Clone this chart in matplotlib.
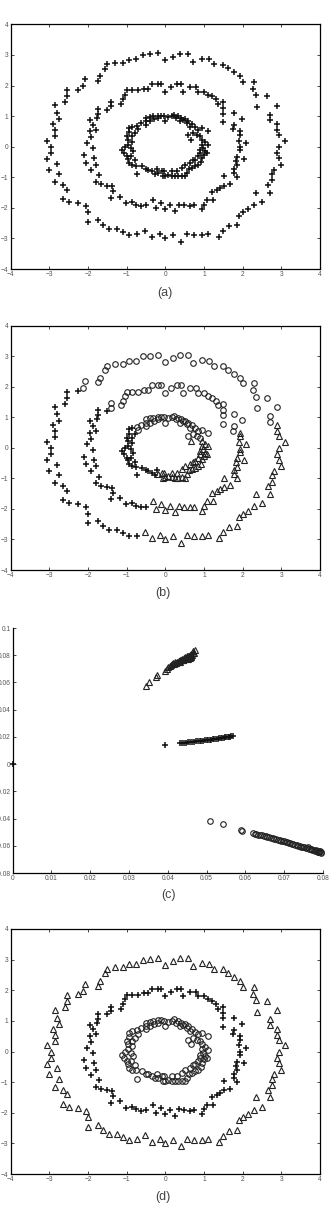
import matplotlib
matplotlib.use('Agg')
import matplotlib.pyplot as plt

plt.rcParams['font.family'] = ['Liberation Sans', 'DejaVu Sans']

## three rings, split by the cluster each point gets in panel (b)
outer_o_x = [2.9, 2.72, 2.72, 2.63, 2.37, 2.34, 2.28, 2.3, 2.0, 1.92, 1.78, 1.63, 1.48, 1.27, 1.13, 0.94,
             0.71, 0.58, 0.38, 0.19, 0.0, -0.2, -0.4, -0.57, -0.75, -0.95, -1.1, -1.3, -1.5, -1.55, -1.7,
             -1.75, -2.08, -2.14]
outer_o_y = [1.34, 1.05, 0.86, 1.65, 1.3, 1.68, 1.89, 2.12, 2.12, 2.31, 2.44, 2.56, 2.68, 2.69, 2.86, 2.88,
             2.78, 3.04, 3.04, 2.94, 2.82, 3.05, 3.02, 3.0, 2.86, 2.85, 2.75, 2.75, 2.7, 2.55, 2.3,
             2.15, 2.2, 1.98]
outer_p_x = [-2.27, -2.55, -2.55, -2.6, -2.85, -2.8, -2.75, -2.9, -2.85, -2.85, -3.05, -2.95, -2.95, -3.05,
             -2.8, -3.0, -2.75, -2.85, -2.65, -2.55, -2.65, -2.5, -2.25, -2.05, -2.0, -2.0, -1.75, -1.6,
             -1.45, -1.25, -1.1, -0.95, -0.74]
outer_p_y = [1.87, 1.85, 1.65, 1.45, 1.35, 1.1, 0.9, 0.75, 0.55, 0.35, 0.2, 0.0, -0.2, -0.4,
             -0.55, -0.75, -0.9, -1.15, -1.25, -1.4, -1.7, -1.8, -1.85, -1.95, -2.15, -2.45, -2.4, -2.55,
             -2.7, -2.7, -2.8, -2.9, -2.87]
outer_t_x = [-0.53, -0.35, -0.15, 0.0, 0.2, 0.4, 0.55, 0.75, 0.95, 1.1, 1.4, 1.5, 1.65, 1.85, 1.9, 2.0,
             2.15, 2.3, 2.5, 2.35, 2.7, 2.65, 2.75, 2.75, 2.8, 3.0, 2.93, 2.9, 2.95, 3.1, 2.95, 2.9, 2.89]
outer_t_y = [-2.74, -2.95, -2.85, -3.0, -2.9, -3.1, -2.85, -2.9, -2.9, -2.85, -2.95, -2.75, -2.6, -2.55,
             -2.25, -2.15, -2.05, -1.9, -1.8, -1.5, -1.5, -1.25, -1.1, -0.9, -0.75, -0.6, -0.38, -0.2,
             0.0, 0.2, 0.38, 0.55, 0.74]

middle_o_x = [-1.41, -1.41, -1.15, -1.1, -1.05, -1.0, -0.85, -0.7, -0.55, -0.45, -0.35, -0.2, -0.1, 0.0,
              0.15, 0.3, 0.4, 0.45, 0.65, 0.8, 0.85, 1.0, 1.1, 1.2, 1.3, 1.35, 1.5, 1.5, 1.5, 1.49,
              1.78, 1.98, 1.78, 1.76]
middle_o_y = [1.46, 1.32, 1.4, 1.55, 1.7, 1.85, 1.85, 1.85, 1.9, 1.9, 2.05, 2.05, 2.05, 1.8,
              1.95, 2.05, 2.05, 1.8, 1.95, 1.95, 1.8, 1.8, 1.7, 1.65, 1.55, 1.4, 1.45, 1.25, 1.08, 0.8,
              1.1, 0.91, 0.71, 0.57]
middle_p_x = [-1.52, -1.75, -1.73, -1.76, -1.95, -1.86, -1.8, -1.95, -1.91, -2.02, -1.88, -2.1, -1.85,
              -2.04, -1.8, -1.91, -1.72, -1.8, -1.67, -1.52, -1.38, -1.35, -1.4, -1.18, -1.02, -0.87,
              -0.76, -0.64, -0.5]
middle_p_y = [1.21, 1.24, 1.07, 0.94, 0.88, 0.72, 0.56, 0.5, 0.31, 0.12, -0.05, -0.28, -0.38,
              -0.53, -0.59, -0.77, -0.94, -1.16, -1.23, -1.27, -1.3, -1.46, -1.68, -1.63, -1.85, -1.81,
              -1.89, -1.95, -1.92]
middle_t_x = [1.92, 1.93, 1.91, 2.09, 1.93, 1.93, 2.03, 1.86, 1.84, 1.86, 1.78, 1.78, 1.86, 1.67, 1.52,
              1.52, 1.41, 1.33, 1.22, 1.24, 1.07, 1.01, 0.96, 0.75, 0.64, 0.49, 0.36, 0.25, 0.12, -0.01,
              -0.11, -0.25, -0.31]
middle_t_y = [0.5, 0.39, 0.2, 0.12, -0.02, -0.12, -0.39, -0.34, -0.47, -0.61, -0.72, -0.86, -0.99, -1.21,
              -0.97, -1.27, -1.36, -1.41, -1.48, -1.74, -1.74, -1.89, -2.05, -1.92, -1.94, -1.92, -1.89,
              -2.11, -1.9, -2.03, -1.85, -2.0, -1.74]

inner_o_x = [-0.51, -0.51, -0.51, -0.4, -0.31, -0.2, -0.11, -0.03, 0.08, 0.16, 0.23, 0.32, 0.41, 0.51,
             0.59, 0.7, 0.77, 0.84, 0.81, 0.9, -0.72, -0.7, 0.71, 0.64, 0.55, 0.47, 0.38, 0.27, -0.01,
             -0.18, -0.28, -0.4, 0.58, 1.1, 0.95, -0.62]
inner_o_y = [0.94, 0.83, 0.72, 0.97, 0.99, 1.02, 1.02, 1.01, 0.97, 1.01, 1.05, 0.99, 0.94, 0.9,
             0.83, 0.75, 0.64, 0.56, 0.39, 0.34, 0.69, 0.58, 0.45, 0.66, 0.77, 0.88, 0.83, 0.94, 0.83,
             0.94, 0.9, 0.83, 0.39, 0.5, 0.6, 0.76]
inner_p_x = [-0.85, -0.94, -0.94, -1.0, -0.96, -0.97, -1.04, -1.11, -1.06, -1.0, -0.96, -0.94, -0.87,
             -0.77, -0.72, -0.61, -0.51, -0.44, -0.35, -0.27, -0.78, -0.85, -0.87, -0.89, -0.83, -0.89,
             -0.78, -0.22]
inner_p_y = [0.66, 0.61, 0.47, 0.34, 0.23, 0.07, -0.01, -0.1, -0.21, -0.32, -0.4, -0.53, -0.59,
             -0.62, -0.89, -0.64, -0.73, -0.75, -0.81, -0.88, 0.45, 0.34, 0.17, -0.04, -0.15, -0.32,
             -0.45, -0.73]
inner_t_x = [-0.18, -0.09, -0.01, 0.08, 0.16, 0.25, 0.34, 0.42, 0.51, 0.55, 0.61, 0.68, 0.77, 0.85, 0.92,
             0.96, 1.01, 1.03, 0.98, 0.96, 1.03, 0.94, 0.66, 0.9, 0.9, 0.85, 0.77, 0.64, 0.51, 0.42,
             0.29, 0.16, -0.03, 0.72, -0.05, 1.1, 1.08]
inner_t_y = [-0.86, -0.81, -0.95, -0.92, -0.95, -0.97, -0.97, -0.95, -0.97, -0.86, -0.73, -0.7, -0.64,
             -0.59, -0.51, -0.37, -0.26, -0.15, -0.04, 0.07, 0.14, 0.23, 0.23, -0.1, -0.21, -0.32, -0.42,
             -0.53, -0.59, -0.7, -0.81, -0.81, -0.81, -0.45, -0.97, 0.05, -0.2]

## spectral embedding (panel c)
emb_t_x = [0.0343, 0.0352, 0.0369, 0.0372, 0.0394, 0.0397, 0.0400, 0.0405, 0.0408, 0.0411, 0.0413, 0.0416,
           0.0418, 0.0421, 0.0423, 0.0425, 0.0428, 0.0430, 0.0432, 0.0435, 0.0437, 0.0439, 0.0441, 0.0443,
           0.0445, 0.0447, 0.0449, 0.0451, 0.0453, 0.0455, 0.0457, 0.0459, 0.0461, 0.0463, 0.0465, 0.0467,
           0.0469, 0.0431, 0.0440, 0.0452, 0.0460, 0.0466, 0.0446, 0.0456, 0.0420]
emb_t_y = [0.0573, 0.0607, 0.0640, 0.0654, 0.0683, 0.0700, 0.0713, 0.0724, 0.0730, 0.0733, 0.0740, 0.0738,
           0.0747, 0.0745, 0.0753, 0.0750, 0.0760, 0.0756, 0.0767, 0.0762, 0.0773, 0.0768, 0.0780, 0.0774,
           0.0786, 0.0780, 0.0792, 0.0786, 0.0798, 0.0792, 0.0805, 0.0798, 0.0812, 0.0805, 0.0820, 0.0813,
           0.0836, 0.0752, 0.0762, 0.0776, 0.0788, 0.0828, 0.0770, 0.0782, 0.0741]
emb_p_x = [0.0, 0.0393, 0.0432, 0.0437, 0.0441, 0.0447, 0.0452, 0.0457, 0.0463, 0.0468, 0.0472, 0.0478,
           0.0482, 0.0486, 0.0491, 0.0496, 0.0500, 0.0503, 0.0508, 0.0512, 0.0517, 0.0520, 0.0524, 0.0529,
           0.0532, 0.0537, 0.0540, 0.0544, 0.0548, 0.0551, 0.0555, 0.0558, 0.0561, 0.0564, 0.0567]
emb_p_y = [0.0, 0.0140, 0.0155, 0.0157, 0.0156, 0.0159, 0.0160, 0.0163, 0.0162, 0.0165, 0.0168, 0.0167,
           0.0170, 0.0172, 0.0171, 0.0175, 0.0176, 0.0178, 0.0177, 0.0181, 0.0182, 0.0185, 0.0184, 0.0188,
           0.0189, 0.0190, 0.0193, 0.0192, 0.0196, 0.0197, 0.0199, 0.0200, 0.0202, 0.0204, 0.0206]
emb_o_x = [0.0510, 0.0542, 0.0588, 0.0590, 0.0620, 0.0624, 0.0628, 0.0633, 0.0638, 0.0642, 0.0647, 0.0652,
           0.0657, 0.0661, 0.0666, 0.0670, 0.0675, 0.0679, 0.0683, 0.0688, 0.0692, 0.0696, 0.0700, 0.0704,
           0.0708, 0.0712, 0.0716, 0.0720, 0.0724, 0.0728, 0.0732, 0.0736, 0.0740, 0.0744, 0.0748, 0.0752,
           0.0756, 0.0760, 0.0764, 0.0768, 0.0772, 0.0776, 0.0780, 0.0784, 0.0788, 0.0791, 0.0794, 0.0796,
           0.0770, 0.0781, 0.0789, 0.0761, 0.0786, 0.0793]
emb_o_y = [-0.0417, -0.0443, -0.0483, -0.0488, -0.0506, -0.0511, -0.0513, -0.0517, -0.0520, -0.0524,
           -0.0527, -0.0530, -0.0534, -0.0536, -0.0540, -0.0543, -0.0547, -0.0550, -0.0554, -0.0557,
           -0.0561, -0.0564, -0.0568, -0.0571, -0.0574, -0.0578, -0.0581, -0.0585, -0.0588, -0.0591,
           -0.0595, -0.0598, -0.0601, -0.0605, -0.0608, -0.0611, -0.0615, -0.0618, -0.0621, -0.0625,
           -0.0628, -0.0631, -0.0635, -0.0638, -0.0642, -0.0645, -0.0649, -0.0652, -0.0622, -0.0630,
           -0.0638, -0.0612, -0.0646, -0.0641]

ring_ticks = [-4, -3, -2, -1, 0, 1, 2, 3, 4]
emb_xticks = [0, 0.01, 0.02, 0.03, 0.04, 0.05, 0.06, 0.07, 0.08]
emb_xlabels = ['0', '0.01', '0.02', '0.03', '0.04', '0.05', '0.06', '0.07', '0.08']
emb_yticks = [-0.08, -0.06, -0.04, -0.02, 0, 0.02, 0.04, 0.06, 0.08, 0.1]
emb_ylabels = ['-0.08', '-0.06', '-0.04', '-0.02', '0', '0.02', '0.04', '0.06', '0.08', '0.1']

plus = dict(linestyle='none', marker='+', color='#111111', markersize=4.2, mew=1.1)
circ = dict(linestyle='none', marker='o', mfc='none', mec='#222222', markersize=4.0, mew=0.8)
tri = dict(linestyle='none', marker='^', mfc='none', mec='#222222', markersize=4.3, mew=0.8)


def style_axes(ax, box=True):
    ax.tick_params(direction='in', length=2, width=0.5, labelsize=4.8, labelcolor='#555555', pad=1.5,
                   top=box, right=box)
    for s in ax.spines.values():
        s.set_linewidth(0.9)
    if not box:
        ax.spines['top'].set_visible(False)
        ax.spines['right'].set_visible(False)


def ring_axes(ax):
    ax.set_xlim(-4, 4)
    ax.set_ylim(-4, 4)
    ax.set_xticks(ring_ticks)
    ax.set_yticks(ring_ticks)
    style_axes(ax)


fig = plt.figure(figsize=(3.29, 12.19), dpi=100)

# (a) raw data
ax = fig.add_axes([0.0325, 0.7793, 0.940, 0.2007])
ax.plot(outer_o_x + outer_p_x + outer_t_x + middle_o_x + middle_p_x + middle_t_x + inner_o_x + inner_p_x + inner_t_x,
        outer_o_y + outer_p_y + outer_t_y + middle_o_y + middle_p_y + middle_t_y + inner_o_y + inner_p_y + inner_t_y,
        **plus)
ring_axes(ax)
fig.text(0.502, 0.7596, '(a)', ha='center', va='center', fontsize=9, color='#444444')

# (b) k-means result
ax = fig.add_axes([0.0325, 0.5324, 0.940, 0.2002])
ax.plot(outer_o_x + middle_o_x + inner_o_x, outer_o_y + middle_o_y + inner_o_y, **circ)
ax.plot(outer_p_x + middle_p_x + inner_p_x, outer_p_y + middle_p_y + inner_p_y, **plus)
ax.plot(outer_t_x + middle_t_x + inner_t_x, outer_t_y + middle_t_y + inner_t_y, **tri)
ring_axes(ax)
fig.text(0.496, 0.5135, '(b)', ha='center', va='center', fontsize=9, color='#444444')

# (c) embedding
ax = fig.add_axes([0.0386, 0.2838, 0.943, 0.2010])
ax.plot(emb_t_x, emb_t_y, clip_on=False, **tri)
ax.plot(emb_p_x, emb_p_y, clip_on=False, **plus)
ax.plot(emb_o_x, emb_o_y, clip_on=False, **circ)
ax.set_xlim(0, 0.08)
ax.set_ylim(-0.08, 0.1)
ax.set_xticks(emb_xticks)
ax.set_xticklabels(emb_xlabels)
ax.set_yticks(emb_yticks)
ax.set_yticklabels(emb_ylabels)
style_axes(ax, box=False)
fig.text(0.512, 0.2658, '(c)', ha='center', va='center', fontsize=9, color='#444444')

# (d) spectral clustering result
ax = fig.add_axes([0.0325, 0.0369, 0.940, 0.2010])
ax.plot(outer_o_x + outer_p_x + outer_t_x, outer_o_y + outer_p_y + outer_t_y, **tri)
ax.plot(middle_o_x + middle_p_x + middle_t_x, middle_o_y + middle_p_y + middle_t_y, **plus)
ax.plot(inner_o_x + inner_p_x + inner_t_x, inner_o_y + inner_p_y + inner_t_y, **circ)
ring_axes(ax)
fig.text(0.496, 0.018, '(d)', ha='center', va='center', fontsize=9, color='#444444')

plt.savefig('out.png', dpi=100)
plt.close()
